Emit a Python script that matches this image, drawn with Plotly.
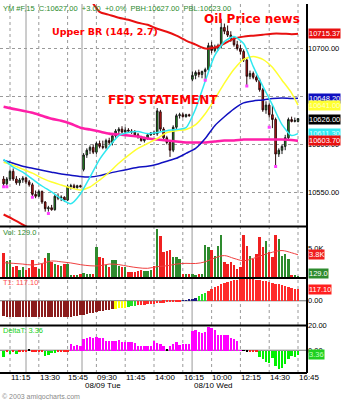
import plotly.graph_objects as go

# ---------------- data ----------------
bar_idx = list(range(93))
opens = [10564,10559,10564,10572,10564,10560,10563,10565,10561,10558,10548,10546,10551,10540,10533,10534,10532,10546,10544,10545,10542,10556,10557,10555,10557,
         10574,10589,10594,10597,10592,10601,10598,10597,10604,10602,10609,10614,10616,10613,10615,10614,10613,10610,10608,10604,10606,10610,10612,10611,10634,10616,10607,10602,10594,10618,10630,10631,10629,10631,
         10668,10672,10675,10673,10676,10678,10703,10698,10701,10703,10722,10718,10714,10710,10704,10700,10697,10688,10671,10674,10670,10667,10657,10636,10641,10631,10626,10590,10594,10598,10607,10626,10624,10624]
highs = [10567,10566,10574,10575,10567,10565,10567,10566,10563,10560,10552,10553,10552,10541,10536,10537,10548,10549,10547,10546,10558,10559,10559,10558,10558,
         10591,10596,10599,10600,10603,10604,10604,10606,10607,10611,10616,10618,10619,10618,10617,10616,10615,10612,10609,10608,10611,10613,10614,10638,10636,10618,10609,10604,10620,10632,10633,10633,10632,10632,
         10676,10677,10678,10677,10680,10706,10707,10704,10705,10731,10726,10724,10718,10713,10708,10704,10699,10690,10677,10676,10672,10669,10659,10645,10643,10642,10628,10596,10600,10610,10628,10629,10628,10627]
lows = [10556,10557,10562,10562,10558,10557,10560,10559,10556,10546,10544,10545,10538,10530,10530,10531,10531,10542,10541,10540,10541,10553,10554,10554,10555,
        10572,10586,10590,10590,10590,10596,10595,10595,10600,10599,10607,10611,10612,10611,10612,10611,10608,10606,10603,10602,10605,10609,10610,10609,10614,10604,10600,10587,10592,10616,10627,10628,10628,10629,
        10666,10668,10670,10669,10667,10676,10695,10696,10698,10700,10715,10712,10707,10702,10698,10694,10686,10662,10668,10668,10665,10655,10634,10632,10628,10617,10578,10587,10590,10594,10605,10623,10623,10623]
closes = [10559,10564,10572,10564,10560,10563,10565,10561,10558,10548,10546,10551,10540,10533,10534,10532,10546,10544,10545,10542,10556,10557,10555,10557,10556,
          10589,10594,10597,10592,10601,10598,10597,10604,10602,10609,10614,10616,10613,10615,10614,10613,10610,10608,10604,10606,10610,10612,10611,10635,10616,10607,10602,10594,10618,10630,10631,10629,10631,10630,
          10672,10675,10673,10676,10678,10703,10698,10701,10703,10722,10718,10714,10710,10704,10700,10697,10688,10671,10674,10670,10667,10657,10636,10641,10631,10626,10590,10594,10598,10607,10626,10624,10625,10627]

line_idx = [0,3,6,9,12,15,18,21,24,27,30,33,36,39,42,45,48,51,54,57,60,63,66,69,72,75,78,81,84,87,90,92]
magenta_ma = [10639.2,10637.1,10635.1,10633.0,10629.9,10626.8,10624.7,10621.6,10617.5,10615.5,10613.4,10611.3,10610.3,10609.3,10608.3,10606.2,
              10605.2,10604.1,10603.1,10602.1,10602.1,10602.1,10603.1,10604.1,10604.1,10605.2,10605.2,10605.2,10605.2,10605.2,10604.6,10603.7]
blue_ma = [10583.5,10580.4,10577.3,10575.3,10573.2,10571.1,10569.1,10568.0,10566.5,10566.0,10567.5,10570.1,10572.2,10574.2,10576.3,10577.3,
           10579.4,10582.5,10585.6,10590.7,10595.9,10606.2,10619.6,10628.9,10637.1,10643.3,10645.4,10646.4,10647.9,10648.5,10647.9,10648.2]
yellow_ma = [10581.4,10578.3,10574.2,10570.1,10564.9,10560.8,10557.7,10554.6,10552.6,10555.7,10562.9,10571.1,10580.4,10588.6,10595.9,10601.0,
             10606.2,10612.4,10614.4,10615.5,10620.6,10632.0,10647.4,10663.9,10678.4,10688.7,10691.8,10688.7,10680.4,10667.0,10653.6,10641.0]
cyan_ma = [10584.5,10576.3,10571.1,10563.9,10556.7,10550.5,10543.3,10538.1,10548.4,10566.0,10584.5,10597.9,10609.3,10612.4,10613.4,10611.3,
           10612.4,10614.4,10615.5,10617.5,10637.1,10666.0,10692.8,10707.2,10712.4,10705.2,10681.4,10660.8,10641.2,10620.6,10609.3,10611.3]
upper_bb_idx = [27,30,33,36,39,42,45,48,51,54,57,60,63,66,69,72,75,78,81,84,87,90,92]
upper_bb = [10752.0,10738.2,10735.1,10732.0,10729.9,10726.8,10724.7,10720.6,10717.5,10713.4,10708.3,10704.1,10700.0,10701.0,10705.2,10710.3,
            10712.4,10713.4,10714.4,10715.5,10715.5,10715.0,10715.37]
lower_bb_idx = [0,3,6,9]
lower_bb = [10527.0,10522.0,10516.5,10511.0]

signal_idx = [0,1,9,14,63,76,83,85]
signal_px = [10556,10556,10545,10528,10667,10661,10618,10577]

volume = [4300,2840,3010,1840,1960,1260,1840,1260,1660,3010,1840,1550,2420,3420,4300,2720,2420,2140,1960,2310,2420,380,500,500,670,
          790,560,560,670,5350,3600,3420,2140,1840,3130,3010,1960,1840,1840,960,960,960,1090,1260,1090,1090,1260,1960,8680,7400,4470,4770,4940,3710,3710,3300,560,560,670,
          560,500,560,620,5820,5350,4880,3890,5640,7570,2720,2430,2720,2130,1550,1840,7570,5640,3890,3300,4180,7100,5350,6520,4470,3600,7570,6810,3890,4180,3300,380,380,129]
vol_ma = [2540,2430,2300,2130,2400,2840,2700,2500,2200,2000,2000,2300,2200,1900,1650,1550,1840,2000,2300,2430,2400,2700,3400,3800,3300,2900,3300,3900,4400,4700,4300,3950]

t1 = [-158,-160,-162,-163,-164,-165,-165,-166,-166,-167,-167,-167,-167,-168,-168,-168,-168,-168,-167,-167,-166,
      -160,-155,-150,-145,-140,-133,-127,-120,-114,-108,-102,-96,-91,-86,
      -82,-78,-74,-70,
      -62,-56,-50,
      -44,-41,-38,-35,-32,-29,-26,-23,-20,-17,-14,-10,-6,-3,
      2,5,10,18,30,
      50,65,82,
      100,118,135,150,165,178,190,200,208,213,216,217,217,217,216,214,210,204,197,190,182,174,165,156,146,137,129,122,117.1]
t1_state = ['dn'] * 35 + ['warn'] * 4 + ['turn'] * 3 + ['weak'] * 14 + ['base'] * 5 + ['turn'] * 3 + ['up'] * 29

delta_t = [-5.3,-0.6,-2.7,-0.5,-2.5,-0.5,-0.5,-0.4,1.5,-1.2,-1.2,-1.2,-0.5,-4.0,-3.5,-2.0,-1.5,-0.3,-0.5,-0.8,-0.8,
           5.3,4.0,4.5,3.5,9.3,10.7,11.2,10.7,11.5,10.7,9.9,8.0,8.0,7.7,8.0,8.3,7.2,6.7,6.7,6.7,6.1,4.0,4.0,3.5,3.5,4.0,8.0,6.1,5.5,4.0,0.6,4.0,5.5,7.2,4.5,5.5,5.5,5.5,
           16.0,16.5,15.2,14.1,15.5,19.2,18.1,16.5,12.8,12.8,12.8,12.8,10.7,9.3,8.0,0.3,0.3,-0.8,-0.8,-0.3,-1.3,-5.3,-6.7,-8.8,-9.9,-5.5,-12.0,-14.7,-14.0,-10.7,-6.7,-4.0,-5.3,-3.36]
delta_state = ['neg','sm','neg','sm','neg','sm','sm','sm','flat','sm','sm','sm','sm','neg','neg','neg','neg','sm','sm','sm','sm'] + \
              ['pos'] * 30 + ['flat'] + ['pos'] * 23 + ['flat','flat','sm','sm','sm'] + ['neg'] * 14

tick_idx = [2,11,20,29,38,47,56,65,74,83,92]
tick_text = ['11:15','13:30','15:45','09:30','11:45','14:00','16:15','10:00','12:15','14:30','16:45']
session_idx = [7, 24.5, 58.9]
date_idx = [24.7, 58.9]
date_text = ['08/09 Tue', '08/10 Wed']

# ---------------- styles ----------------
T1_COL = {'dn': '#8B1C1C', 'warn': '#FFFF00', 'turn': '#22E022', 'weak': '#FF2A2A', 'base': '#1A1A80', 'up': '#FF2A2A'}
DT_COL = {'neg': '#00F000', 'sm': '#FF2020', 'flat': '#000000', 'pos': '#FF00FF'}
FONT = 'Liberation Sans'

fig = go.Figure()

fig.add_trace(go.Candlestick(
    x=bar_idx, open=opens, high=highs, low=lows, close=closes, xaxis='x', yaxis='y',
    increasing=dict(fillcolor='#22B022', line=dict(color='#1A1A1A', width=1)),
    decreasing=dict(fillcolor='#E01818', line=dict(color='#2A0A0A', width=1)),
    whiskerwidth=0, showlegend=False, hoverinfo='skip'))

for xs, ys, col, w in [(lower_bb_idx, lower_bb, '#E81010', 2), (upper_bb_idx, upper_bb, '#E81010', 2),
                       (line_idx, magenta_ma, '#FF1FA8', 2.6), (line_idx, blue_ma, '#1010C0', 1.5),
                       (line_idx, yellow_ma, '#FFFF30', 1.5), (line_idx, cyan_ma, '#30E8F0', 1.5)]:
    fig.add_trace(go.Scatter(x=xs, y=ys, mode='lines', line=dict(color=col, width=w, shape='spline', smoothing=0.6),
                             xaxis='x', yaxis='y', showlegend=False, hoverinfo='skip'))

fig.add_trace(go.Scatter(x=signal_idx, y=signal_px, mode='markers', marker=dict(symbol='square', size=3, color='#FF40FF'),
                         xaxis='x', yaxis='y', showlegend=False, hoverinfo='skip'))

vol_cols = ['#2E8B2E' if c >= o else '#F02020' for o, c in zip(opens, closes)]
fig.add_trace(go.Bar(x=bar_idx, y=volume, marker=dict(color=vol_cols, line=dict(width=0)), width=0.72,
                     xaxis='x', yaxis='y2', showlegend=False, hoverinfo='skip'))
fig.add_trace(go.Scatter(x=line_idx, y=vol_ma, mode='lines', line=dict(color='#F04040', width=1, shape='spline'),
                         xaxis='x', yaxis='y2', showlegend=False, hoverinfo='skip'))

fig.add_trace(go.Bar(x=bar_idx, y=t1, marker=dict(color=[T1_COL[s] for s in t1_state], line=dict(width=0)), width=0.72,
                     xaxis='x', yaxis='y3', showlegend=False, hoverinfo='skip'))
fig.add_trace(go.Bar(x=bar_idx, y=delta_t, marker=dict(color=[DT_COL[s] for s in delta_state], line=dict(width=0)), width=0.72,
                     xaxis='x', yaxis='y4', showlegend=False, hoverinfo='skip'))

H = 373.0
def py(p):  # paper y from pixel row inside plot area
    return (H - p) / H

d_dt = [0, py(325)]
d_t1 = [py(325), py(277)]
d_vol = [py(277), py(225)]
d_pr = [py(225), 1]

axis_common = dict(side='right', ticks='', zeroline=False, tickfont=dict(family=FONT, size=7.5, color='black'),
                   fixedrange=True, showline=False, anchor='x')
fig.update_layout(
    width=341, height=400, margin=dict(l=0, r=34, t=0, b=27),
    paper_bgcolor='white', plot_bgcolor='white', showlegend=False, bargap=0,
    xaxis=dict(range=[-1.125, 94.81], showgrid=False, showticklabels=False, zeroline=False, anchor='y4',
               rangeslider=dict(visible=False), fixedrange=True),
    yaxis=dict(domain=d_pr, range=[10514.4, 10746.4], tickvals=[10550, 10600, 10650, 10700],
               ticktext=['10550.00', '10600.00', '', '10700.00'], showgrid=True, gridcolor='#9A9A9A',
               griddash='dot', gridwidth=1, **axis_common),
    yaxis2=dict(domain=d_vol, range=[-175, 8946], tickvals=[5000], ticktext=['5.0K'], showgrid=False, **axis_common),
    yaxis3=dict(domain=d_t1, range=[-250, 230], tickvals=[0], ticktext=['0.00'], showgrid=False, **axis_common),
    yaxis4=dict(domain=d_dt, range=[-18.4, 20], tickvals=[20, 0], ticktext=['20.00', '0.00'], showgrid=False, **axis_common),
)

shapes = []
for t in tick_idx:
    shapes.append(dict(type='line', xref='x', yref='paper', x0=t, x1=t, y0=0, y1=1,
                       line=dict(color='#9A9A9A', width=1, dash='dot'), layer='below'))
for s in session_idx:
    shapes.append(dict(type='line', xref='x', yref='paper', x0=s, x1=s, y0=0, y1=1,
                       line=dict(color='#9A9A9A', width=1), layer='below'))
shapes.append(dict(type='line', xref='paper', yref='y3', x0=0, x1=1, y0=0, y1=0, line=dict(color='#707070', width=1), layer='below'))
shapes.append(dict(type='line', xref='paper', yref='y4', x0=0, x1=1, y0=0, y1=0, line=dict(color='#707070', width=1), layer='below'))
for yb in [d_vol[1], d_t1[1], d_dt[1], 0]:
    shapes.append(dict(type='line', xref='paper', yref='paper', x0=0, x1=1, y0=yb, y1=yb, line=dict(color='black', width=2)))
shapes.append(dict(type='line', xref='paper', yref='paper', x0=1, x1=1, y0=0, y1=1, line=dict(color='black', width=2)))
fig.update_layout(shapes=shapes)

ann = []
for t, lab in zip(tick_idx, tick_text):
    ann.append(dict(x=t - 0.4, y=py(378), xref='x', yref='paper', text=lab, showarrow=False, xanchor='left', yanchor='middle',
                    font=dict(family=FONT, size=8, color='black')))
for t, lab in zip(date_idx, date_text):
    ann.append(dict(x=t, y=py(386), xref='x', yref='paper', text=lab, showarrow=False, xanchor='left', yanchor='middle',
                    font=dict(family=FONT, size=8, color='black')))
ann.append(dict(x=0, y=py(397), xref='paper', yref='paper', text='© 2003 amigocharts.com', showarrow=False,
                xanchor='left', yanchor='middle', font=dict(family=FONT, size=7, color='#8A8A8A')))

ann.append(dict(x=0.002, y=py(4.5), xref='paper', yref='paper',
                text='YM #F,15  C:10627.00  +3.00  +0.0%  PBH:10627.00  PBL:10623.00', showarrow=False,
                xanchor='left', yanchor='middle', font=dict(family=FONT, size=7.5, color='#2A8A2A')))
ann.append(dict(x=0.003, y=py(230.5), xref='paper', yref='paper', text='Vol: 129.0', showarrow=False,
                xanchor='left', yanchor='middle', font=dict(family=FONT, size=7.5, color='#2E8B2E')))
ann.append(dict(x=0.003, y=py(282), xref='paper', yref='paper', text='T1: 117.10', showarrow=False,
                xanchor='left', yanchor='middle', font=dict(family=FONT, size=7.5, color='#FF5050')))
ann.append(dict(x=0.003, y=py(330), xref='paper', yref='paper', text='DeltaT: 3.36', showarrow=False,
                xanchor='left', yanchor='middle', font=dict(family=FONT, size=7.5, color='#20D020')))

big = dict(family='DejaVu Sans', color='#FF0000')
ann.append(dict(x=50 / 307, y=py(28), xref='paper', yref='paper', text='<b>Upper BR (144, 2.7)</b>', showarrow=False,
                xanchor='left', yanchor='middle', font=dict(size=9.5, **big)))
ann.append(dict(x=202 / 307, y=py(15), xref='paper', yref='paper', text='<b>Oil Price news</b>', showarrow=False,
                xanchor='left', yanchor='middle', font=dict(size=12, **big)))
ann.append(dict(x=106 / 307, y=py(97), xref='paper', yref='paper', text='<b>FED STATEMENT</b>', showarrow=False,
                xanchor='left', yanchor='middle', font=dict(size=12, **big)))

def box(yref, yv, text, bg, fg='white', yshift=0):
    ann.append(dict(x=1, y=yv, xref='paper', yref=yref, text=text, showarrow=False, xanchor='left', yanchor='middle',
                    xshift=1, yshift=yshift, bgcolor=bg, borderpad=0, font=dict(family=FONT, size=7.5, color=fg)))

box('y', upper_bb[-1], '10715.37', '#E81010')
box('y', blue_ma[-1], '10648.20', '#1010C0')
box('y', yellow_ma[-1], '10641.00', '#FFFF30', fg='#FFFFC0')
box('y', closes[-1] - 1, '10626.00', '#000000')
box('y', cyan_ma[-1], '10611.30', '#30E8F0', fg='#E0FFFF')
box('y', magenta_ma[-1], '10603.70', '#E81010')
box('y2', vol_ma[-1], '3.8K', '#F02020')
box('y2', volume[-1], '129.0', '#2E8B2E', yshift=3)
box('y3', t1[-1], '117.10', '#FF2020')
box('y4', delta_t[-1], '3.36', '#20D020', fg='#C0FFC0')

fig.update_layout(annotations=ann)
fig.write_html('out.html')
